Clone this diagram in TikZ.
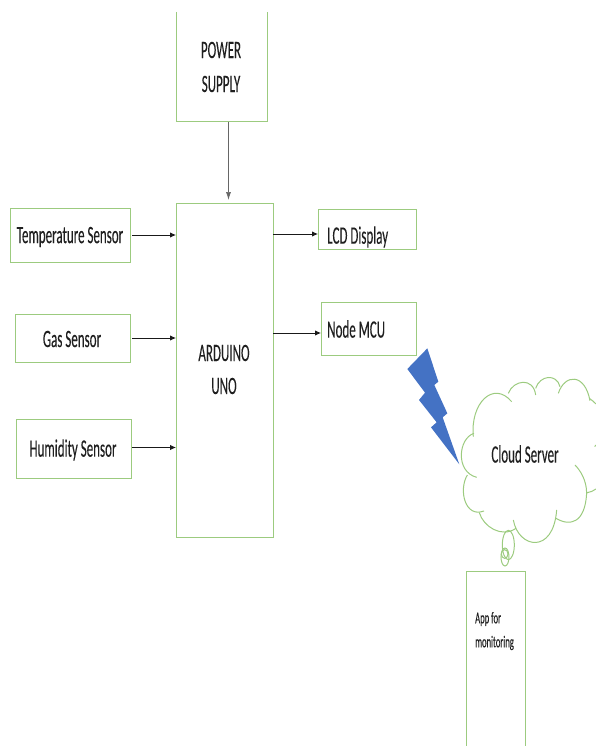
\documentclass[tikz,border=0pt]{standalone}
\usepackage{fontspec}
\usetikzlibrary{arrows.meta,calc}
\newfontfamily\bigf[FakeStretch=0.52,FakeBold=0.15]{Carlito}
\definecolor{boxgreen}{HTML}{9CCB7F}
\definecolor{boltblue}{HTML}{4472C4}
\definecolor{ink}{HTML}{1F1F1F}
\tikzset{
  x=1pt,y=-1pt,
  blockbox/.style={draw=boxgreen,line width=1pt,minimum width=#1,inner sep=0pt,outer sep=0pt},
  openbox/.style={minimum width=#1,inner sep=0pt,outer sep=0pt},
  greenline/.style={draw=boxgreen,line width=1pt},
  lbl/.style={text=ink,font=\bigf\fontsize{25}{25}\selectfont,inner sep=0pt},
  smalllbl/.style={text=ink,font=\bigf\fontsize{16.5}{16.5}\selectfont,inner sep=0pt,anchor=west},
  arr/.style={draw=black!90,line width=0.9pt,-{Latex[length=6pt,width=5.5pt]}},
  thinarr/.style={draw=black!60,line width=0.7pt,-{Latex[length=8pt,width=5pt]}},
  cloudline/.style={draw=boxgreen,line width=1pt}
}
\begin{document}
\begin{tikzpicture}
\useasboundingbox (0,0) rectangle (596,746);
% boxes
\node[openbox=91pt,minimum height=110pt] (power) at (221.5,67) {};
\draw[greenline] (power.north west) -- (power.south west) -- (power.south east) -- (power.north east);
\node[blockbox=97pt,minimum height=334pt] (ard) at (224.5,370) {};
\node[blockbox=120pt,minimum height=54pt] (temp) at (70,235) {};
\node[blockbox=115pt,minimum height=48pt] (gas) at (72.5,338) {};
\node[blockbox=115pt,minimum height=59pt] (hum) at (73.5,448.5) {};
\node[blockbox=98pt,minimum height=40pt] (lcd) at (367,229) {};
\node[blockbox=95pt,minimum height=53pt] (mcu) at (368.5,328.5) {};
\node[openbox=59pt,minimum height=175pt] (app) at (495.5,658.5) {};
\draw[greenline] (app.south west) -- (app.north west) -- (app.north east) -- (app.south east);
% labels
\node[lbl] (tpower) at (221,50) {POWER};
\node[lbl] (tsupply) at (221,84) {SUPPLY};
\node[lbl] (ttemp) at (70,237) {Temperature Sensor};
\node[lbl] (tgas) at (72,339) {Gas Sensor};
\node[lbl] (thum) at (73,450) {Humidity Sensor};
\node[lbl,anchor=west] (tlcd) at (327,237) {LCD Display};
\node[lbl,anchor=west] (tmcu) at (327,329) {Node MCU};
\node[lbl] (tard) at (224,353) {ARDUINO};
\node[lbl] (tuno) at (224,386) {UNO};
\node[lbl] (tcloud) at (525,454) {Cloud Server};
\node[smalllbl] (tapp) at (475,619) {App for};
\node[smalllbl] (tmon) at (475,643) {monitoring};
% arrows
\coordinate (powertip) at ($(power.south)+(7,78)$);
\draw[thinarr] (power.south -| powertip) -- (powertip);
\draw[arr] ([xshift=2pt]temp.east) -- (temp.east -| ard.west);
\draw[arr] ([xshift=2pt]gas.east) -- (gas.east -| ard.west);
\draw[arr] ([xshift=1pt,yshift=1pt]hum.east) -- ([yshift=1pt]hum.east -| ard.west);
\draw[arr] ([yshift=-5pt]lcd.west -| ard.east) -- ([yshift=-5pt]lcd.west);
\draw[arr] ([yshift=-4.5pt]mcu.west -| ard.east) -- ([yshift=-4.5pt]mcu.west);
% bolt and cloud in zoomed coordinates
\begin{scope}[shift={(390,330)},x=0.3333pt,y=-0.3333pt]
\fill[boltblue] (112,55)--(145,155)--(133,165)--(172,250)--(158,262)--(208,403)--(123,292)--(140,277)--(87,210)--(105,188)--(52,117)--cycle;
\draw[cloudline] (252,310) .. controls (205,325) and (195,425) .. (260,442);
\draw[cloudline] (232,435) .. controls (205,480) and (225,565) .. (282,543);
\draw[cloudline] (268,548) .. controls (280,590) and (335,625) .. (378,595);
\draw[cloudline] (370,570) .. controls (385,655) and (490,675) .. (500,540);
\draw[cloudline] (498,565) .. controls (540,590) and (585,580) .. (590,490) .. controls (590,450) and (570,420) .. (555,405);
\draw[cloudline] (590,490) -- (592,488) .. controls (600,487) and (610,483) .. (618,477);
\draw[cloudline] (250,320) .. controls (240,220) and (310,150) .. (365,215);
\draw[cloudline] (355,190) .. controls (370,150) and (430,140) .. (437,195);
\draw[cloudline] (437,175) .. controls (450,135) and (500,130) .. (510,170);
\draw[cloudline] (505,190) .. controls (525,130) and (585,130) .. (600,212);
\draw[cloudline] (598,205) .. controls (605,210) and (612,215) .. (618,222);
\draw[cloudline] (614,350) -- (618,345);
\draw[cloudline] (355,645) ellipse [x radius=18,y radius=44];
\draw[cloudline] (345,681) ellipse [x radius=12,y radius=27];
\draw[cloudline] (344,672) ellipse [x radius=10,y radius=13];
\end{scope}
\end{tikzpicture}
\end{document}
